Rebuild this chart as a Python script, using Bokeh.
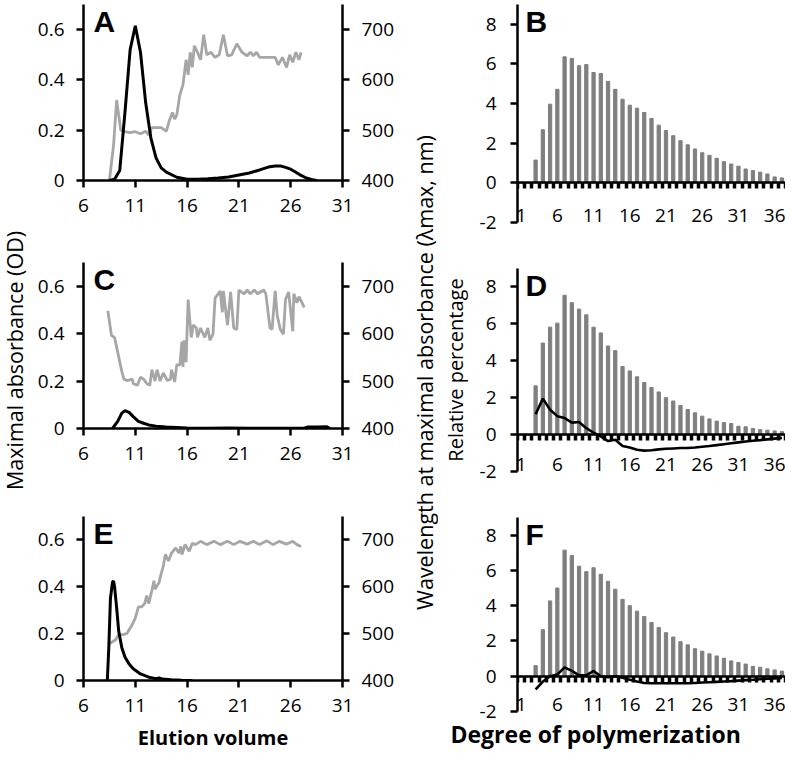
from math import pi
from bokeh.plotting import figure
from bokeh.models import Range1d, LinearAxis, FixedTicker, Label, Title
from bokeh.layouts import row, column
from bokeh.embed import file_html
from bokeh.resources import INLINE

FONT = "Open Sans"
LETTER_FONT = "Liberation Sans"
GRAY_LINE = "#a6a6a6"
BAR_COLOR = "#7f7f7f"

# ---------------- data ----------------
# Panel A
a_abs_x = [8.5, 9.0, 9.5, 10.0, 10.5, 11.0, 11.5, 12.0, 12.5, 13.0, 13.5, 14.0, 15.0, 16.0, 17.0, 18.0,
           19.0, 20.0, 21.0, 22.0, 23.0, 24.0, 24.5, 25.0, 25.5, 26.0, 26.5, 27.0, 27.5, 28.0, 28.5]
a_abs_y = [0.0, 0.005, 0.04, 0.27, 0.52, 0.615, 0.51, 0.31, 0.17, 0.09, 0.05, 0.033, 0.013, 0.005, 0.005,
           0.007, 0.01, 0.014, 0.022, 0.03, 0.042, 0.055, 0.058, 0.058, 0.052, 0.045, 0.033, 0.02, 0.01, 0.004, 0.0]
a_wl_x = [8.5, 8.9, 9.2, 9.4, 9.6, 10.0, 10.5, 11.0, 11.5, 12.0, 12.3, 12.6, 13.0, 13.5, 14.0, 14.3, 14.6,
          14.8, 15.0, 15.3, 15.6, 15.9, 16.1, 16.3, 16.5, 16.7, 17.0, 17.3, 17.6, 17.9, 18.3, 18.7, 19.1,
          19.5, 19.9, 20.3, 20.8, 21.3, 21.8, 22.1, 22.4, 22.7, 23.0, 23.5, 24.0, 24.5, 24.8, 25.2, 25.6,
          25.9, 26.2, 26.5, 26.8, 27.0]
a_wl_y = [400, 470, 560, 530, 500, 497, 495, 497, 493, 498, 490, 505, 505, 505, 498, 520, 535, 522, 530,
          570, 590, 640, 610, 655, 625, 668, 655, 640, 690, 650, 655, 645, 650, 690, 648, 650, 672, 655,
          648, 655, 648, 655, 645, 645, 645, 645, 630, 645, 625, 650, 635, 655, 640, 655]

# Panel C
c_abs_x = [8.8, 9.3, 9.7, 10.0, 10.4, 10.8, 11.3, 11.8, 12.3, 13.0, 14.0, 15.0, 16.0, 18.0, 20.0, 22.0,
           24.0, 26.0, 27.3, 27.6, 28.5, 29.5, 29.8]
c_abs_y = [0.0, 0.03, 0.065, 0.075, 0.068, 0.05, 0.03, 0.022, 0.015, 0.01, 0.006, 0.004, 0.002, 0.001,
           0.002, 0.001, 0.001, 0.001, 0.001, 0.006, 0.006, 0.007, 0.0]
c_wl_x = [8.35, 8.7, 9.0, 9.7, 9.9, 10.2, 10.7, 10.8, 11.2, 11.5, 11.8, 12.1, 12.4, 12.6, 12.9, 13.1,
          13.4, 13.7, 14.1, 14.4, 14.5, 14.8, 15.0, 15.3, 15.5, 15.6, 15.7, 15.9, 16.1, 16.4, 16.6, 16.9,
          17.0, 17.3, 17.7, 18.0, 18.2, 18.5, 18.7, 19.2, 19.4, 19.5, 19.9, 20.2, 20.5, 20.8, 21.0, 21.5,
          21.8, 22.1, 22.5, 22.8, 23.4, 23.6, 24.0, 24.2, 24.5, 24.7, 25.0, 25.3, 25.5, 25.8, 26.2, 26.3,
          26.6, 26.8, 27.1, 27.3]
c_wl_y = [648, 596, 592, 520, 504, 501, 504, 495, 491, 508, 504, 495, 491, 524, 500, 524, 500, 517, 501,
          504, 524, 498, 534, 534, 583, 530, 586, 540, 672, 592, 618, 612, 592, 612, 592, 612, 586, 599,
          675, 690, 645, 690, 618, 688, 612, 609, 692, 684, 692, 684, 692, 684, 692, 684, 612, 609, 690,
          638, 609, 599, 672, 688, 605, 684, 665, 678, 665, 655]

# Panel E
e_abs_x = [8.3, 8.45, 8.6, 8.8, 8.9, 9.0, 9.2, 9.4, 9.7, 10.0, 10.4, 10.8, 11.5, 12.3, 13.0, 13.3, 13.6,
           14.5, 15.5, 16.5]
e_abs_y = [0.0, 0.15, 0.35, 0.42, 0.425, 0.40, 0.31, 0.21, 0.14, 0.10, 0.07, 0.05, 0.028, 0.014, 0.008,
           0.011, 0.006, 0.003, 0.001, 0.0]
e_wl_x = [8.4, 9.1, 9.4, 9.9, 10.2, 10.7, 11.0, 11.3, 11.6, 11.9, 12.1, 12.3, 12.6, 12.8, 12.9, 13.3,
          13.4, 13.7, 13.9, 14.2, 14.5, 14.9, 15.2, 15.4, 15.5, 15.8, 16.2, 16.5, 16.8, 17.3, 17.9, 18.6,
          19.2, 19.9, 20.5, 21.1, 21.8, 22.4, 23.0, 23.7, 24.3, 24.9, 25.6, 26.2, 26.6, 27.0]
e_wl_y = [477, 487, 498, 498, 501, 519, 533, 557, 557, 564, 581, 564, 592, 613, 595, 609, 620, 644, 669,
          655, 672, 683, 672, 686, 669, 690, 676, 693, 690, 697, 690, 697, 690, 697, 690, 697, 691, 697,
          690, 698, 690, 697, 691, 697, 690, 686]

# Bar panels: degree of polymerization 1..37
dp = list(range(1, 38))
b_pct = [0, 0, 1.15, 2.68, 3.97, 4.72, 6.36, 6.28, 5.91, 5.97, 5.57, 5.52, 5.12, 4.72, 4.22, 3.92, 3.77,
         3.55, 3.25, 2.91, 2.64, 2.38, 2.13, 1.92, 1.71, 1.52, 1.39, 1.24, 1.07, 0.95, 0.84, 0.70, 0.62,
         0.54, 0.45, 0.30, 0.25]
d_pct = [0, 0, 2.64, 4.96, 5.82, 6.04, 7.55, 7.15, 6.8, 6.49, 5.82, 5.51, 4.8, 4.55, 3.69, 3.45, 3.13,
         2.82, 2.55, 2.31, 2.0, 1.82, 1.58, 1.36, 1.18, 1.0, 0.85, 0.73, 0.65, 0.6, 0.45, 0.42, 0.33,
         0.27, 0.24, 0.2, 0.16]
f_pct = [0, 0, 0.6, 2.64, 4.27, 5.0, 7.15, 6.84, 6.24, 5.93, 6.15, 5.78, 5.38, 4.93, 4.36, 4.0, 3.69,
         3.38, 3.05, 2.76, 2.47, 2.22, 1.96, 1.78, 1.56, 1.42, 1.27, 1.15, 1.02, 0.87, 0.78, 0.69, 0.56,
         0.51, 0.42, 0.36, 0.29]
diff_dp = list(range(3, 38))
d_diff = [1.1, 1.95, 1.35, 1.0, 0.9, 0.65, 0.68, 0.35, 0.1, -0.1, -0.35, -0.28, -0.62, -0.7, -0.82,
          -0.87, -0.85, -0.8, -0.77, -0.75, -0.73, -0.73, -0.7, -0.66, -0.62, -0.57, -0.52, -0.47, -0.42,
          -0.37, -0.33, -0.3, -0.26, -0.22, -0.18]
f_diff = [-0.75, -0.3, 0.0, 0.1, 0.5, 0.3, 0.05, 0.05, 0.3, 0.0, -0.05, 0.0, -0.08, -0.2, -0.3, -0.38,
          -0.4, -0.4, -0.4, -0.4, -0.4, -0.4, -0.38, -0.36, -0.34, -0.32, -0.3, -0.28, -0.25, -0.22, -0.2,
          -0.17, -0.14, -0.12, -0.1]

abs_ticks = [0, 0.2, 0.4, 0.6]
abs_labels = ["0", "0.2", "0.4", "0.6"]
wl_ticks = [400, 500, 600, 700]
vol_ticks = [6, 11, 16, 21, 26, 31]
pct_ticks = [-2, 0, 2, 4, 6, 8]
dp_label_ticks = [1, 6, 11, 16, 21, 26, 31, 36]


def style_axis(ax, size="19px"):
    ax.axis_line_color = "black"
    ax.axis_line_width = 2.5
    ax.major_tick_line_color = "black"
    ax.major_tick_line_width = 2.5
    ax.major_tick_out = 7
    ax.major_tick_in = 0
    ax.minor_tick_line_color = None
    ax.major_label_text_font = FONT
    ax.major_label_text_font_size = size
    ax.major_label_text_color = "black"


def base_fig(width, height, xr, yr, left, right, top, bottom):
    p = figure(width=width, height=height, x_range=xr, y_range=yr,
               min_border_left=left, min_border_right=right,
               min_border_top=top, min_border_bottom=bottom,
               output_backend="svg", toolbar_location=None)
    p.outline_line_color = None
    p.grid.visible = False
    p.background_fill_color = "white"
    return p


def left_panel(letter, ax_, ay_, wx_, wy_, height, top, bottom, xlabel=None):
    p = base_fig(377, height, Range1d(6, 31), Range1d(0, 0.7), 55, 63, top, bottom)
    p.extra_y_ranges = {"wl": Range1d(400, 750)}
    p.line(wx_, wy_, y_range_name="wl", color=GRAY_LINE, line_width=2.8)
    p.line(ax_, ay_, color="black", line_width=3)
    xa = p.xaxis[0]
    style_axis(xa)
    xa.ticker = FixedTicker(ticks=vol_ticks)
    xa.major_label_standoff = 11
    ya = p.yaxis[0]
    style_axis(ya)
    ya.ticker = FixedTicker(ticks=abs_ticks)
    ya.major_label_overrides = dict(zip(abs_ticks, abs_labels))
    ya.major_label_standoff = 12
    ra = LinearAxis(y_range_name="wl", ticker=FixedTicker(ticks=wl_ticks))
    style_axis(ra)
    ra.major_label_standoff = 12
    p.add_layout(ra, "right")
    if xlabel:
        xa.axis_label = xlabel
        xa.axis_label_text_font = FONT
        xa.axis_label_text_font_style = "bold"
        xa.axis_label_text_font_size = "20px"
        xa.axis_label_text_color = "black"
        xa.axis_label_standoff = 9
    p.add_layout(Label(x=6.97, y=0.7, text=letter, text_font=LETTER_FONT, text_font_style="bold",
                       text_font_size="30px", text_baseline="top", text_align="left",
                       text_color="black"))
    return p


def right_panel(letter, pct, diff, height, top, bottom, ylabel=None, xtitle=None):
    p = base_fig(347, height, Range1d(0.5, 37.5), Range1d(-2, 9), 76, 0, top, bottom)
    p.vbar(x=dp, top=pct, width=0.45, bottom=0, color=BAR_COLOR)
    if diff is not None:
        p.line(diff_dp, diff, color="black", line_width=2.6)
    ya = p.yaxis[0]
    style_axis(ya)
    ya.ticker = FixedTicker(ticks=pct_ticks)
    ya.major_label_overrides = {t: str(t) for t in pct_ticks}
    ya.major_label_standoff = 14
    if ylabel:
        ya.axis_label = ylabel
        ya.axis_label_text_font = FONT
        ya.axis_label_text_font_style = "normal"
        ya.axis_label_text_font_size = "20px"
        ya.axis_label_text_color = "black"
        ya.axis_label_standoff = 8
    # zero line with category tick marks
    bounds = [k - 0.5 for k in dp] + [dp[-1] + 0.5]
    xa = p.xaxis[0]
    style_axis(xa)
    xa.fixed_location = 0
    xa.ticker = FixedTicker(ticks=bounds)
    xa.major_tick_line_width = 3.5
    xa.major_tick_out = 6
    xa.major_label_overrides = {b: "" for b in bounds}
    # category labels drawn low (at the -2 level)
    la = LinearAxis(ticker=FixedTicker(ticks=dp_label_ticks))
    style_axis(la)
    la.axis_line_color = None
    la.major_tick_line_color = None
    la.major_tick_out = 0
    la.major_label_standoff = -14
    p.add_layout(la, "below")
    if xtitle:
        p.add_layout(Title(text=xtitle, align="left", offset=-67, standoff=5, text_font=FONT,
                           text_font_style="bold", text_font_size="23px", text_color="black"),
                     "below")
    p.add_layout(Label(x=1.6, y=9, text=letter, text_font=LETTER_FONT, text_font_style="bold",
                       text_font_size="30px", text_baseline="top", text_align="left",
                       text_color="black"))
    return p


def text_fig(width, height, text, x_px, y_px, size, style="normal", angle=0.0):
    p = figure(width=width, height=height, x_range=Range1d(0, width), y_range=Range1d(0, height),
               min_border=0, output_backend="svg", toolbar_location=None)
    p.axis.visible = False
    p.grid.visible = False
    p.outline_line_color = None
    p.add_layout(Label(x=x_px, y=y_px, text=text, angle=angle, text_align="center",
                       text_baseline="middle", text_font=FONT, text_font_size=size,
                       text_font_style=style, text_color="black"))
    return p


pA = left_panel("A", a_abs_x, a_abs_y, a_wl_x, a_wl_y, 228, 4, 48)
pC = left_panel("C", c_abs_x, c_abs_y, c_wl_x, c_wl_y, 246, 34, 46)
pE = left_panel("E", e_abs_x, e_abs_y, e_wl_x, e_wl_y, 279, 42, 71, xlabel="Elution volume")

pB = right_panel("B", b_pct, None, 238, 4, 16)
pD = right_panel("D", d_pct, d_diff, 247, 30, 14, ylabel="Relative percentage")
pF = right_panel("F", f_pct, f_diff, 268, 32, 42, xtitle="Degree of polymerization")

left_title = text_fig(28, 753, "Maximal absorbance (OD)", 14, 753 - 360, "21.5px", angle=pi / 2)
right_title = text_fig(33, 753, "Wavelength at maximal absorbance (\u03bbmax, nm)", 19, 753 - 372,
                       "21.5px", angle=pi / 2)

layout = row(left_title, column(pA, pC, pE), right_title, column(pB, pD, pF))

with open("out.html", "w") as fh:
    fh.write(file_html(layout, INLINE))
